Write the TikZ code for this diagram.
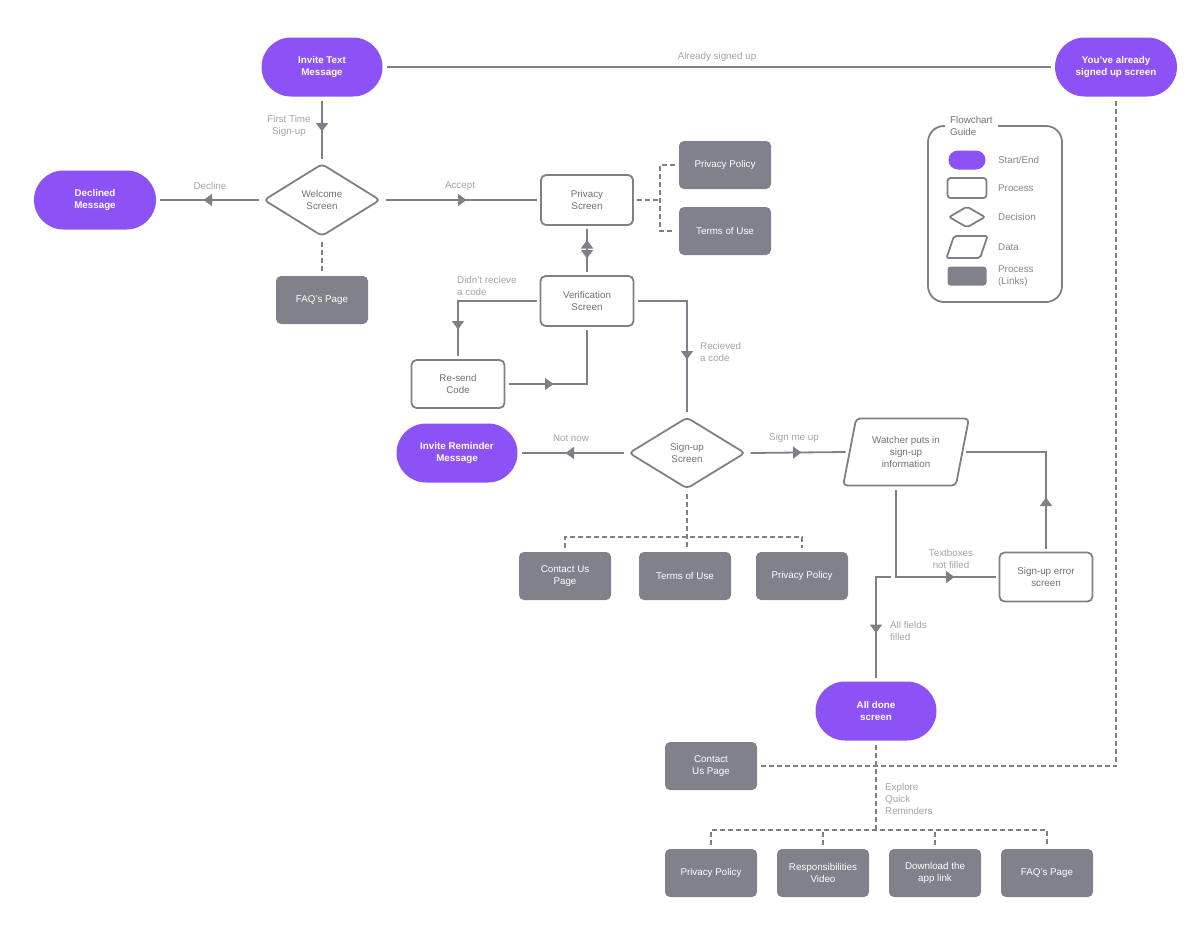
\documentclass[tikz,border=0pt]{standalone}
\usepackage{fontspec}
\setmainfont{Liberation Sans}
\usetikzlibrary{shapes.geometric,shapes.misc,arrows.meta,decorations.markings}

\definecolor{startend}{HTML}{8C52F6}
\definecolor{linkfill}{HTML}{80818A}
\definecolor{edgecol}{HTML}{7F8087}
\definecolor{labelcol}{HTML}{A3A3A7}
\definecolor{boxtext}{HTML}{707076}
\definecolor{guidetext}{HTML}{86868B}

\tikzset{
  x=1pt, y=-1pt,
  txt/.style={font=\fontsize{9.8}{11.8}\selectfont},
  base/.style={txt, align=center, inner sep=0pt, outer sep=4pt, line width=1.8pt},
  pill/.style={base, rounded rectangle, fill=startend, text=white,
    font=\fontsize{9.8}{11.8}\selectfont\bfseries, minimum width=121pt, minimum height=59pt},
  proc/.style={base, rectangle, draw=edgecol, rounded corners=5pt, fill=white,
    text=boxtext, minimum width=93pt, minimum height=49pt},
  linkbox/.style={base, rectangle, fill=linkfill, rounded corners=5pt, text=white,
    minimum width=92pt, minimum height=48pt},
  decision/.style={base, diamond, draw=edgecol, rounded corners=4pt, text=boxtext,
    minimum width=119pt, minimum height=75pt},
  datain/.style={base, trapezium, trapezium left angle=74, trapezium right angle=106,
    trapezium stretches=true, draw=edgecol, rounded corners=4pt, text=boxtext,
    minimum width=126pt, minimum height=67pt},
  lbl/.style={txt, text=labelcol, inner sep=0pt, align=center},
  guidelbl/.style={txt, text=guidetext, inner sep=0pt, align=left, anchor=west},
  flow/.style={draw=edgecol, line width=1.8pt},
  linkline/.style={draw=edgecol, line width=1.8pt, dash pattern=on 5pt off 3pt},
  tipat/.style={postaction={decorate, decoration={markings,
    mark=at position #1 with {\arrow{Triangle[width=12pt,length=8.5pt]}}}}},
  backtipat/.style={postaction={decorate, decoration={markings,
    mark=at position #1 with {\arrowreversed{Triangle[width=12pt,length=8.5pt]}}}}},
}

\begin{document}
\begin{tikzpicture}
\useasboundingbox (0,0) rectangle (1200,930);

% ---------- start / end ----------
\node[pill] (inv)  at (322,67)  {Invite Text\\Message};
\node[pill, minimum width=122pt] (you) at (1116,67) {You’ve already\\signed up screen};
\node[pill, minimum width=122pt] (dec) at (95,200) {Declined\\Message};
\node[pill] (irm)  at (457,453) {Invite Reminder\\Message};
\node[pill] (done) at (876,711) {All done\\screen};

% ---------- decisions ----------
\node[decision] (wel) at (322,200) {Welcome\\Screen};
\node[decision, minimum height=74pt] (sgn) at (687,453) {Sign-up\\Screen};

% ---------- processes ----------
\node[proc, minimum width=92pt, minimum height=50pt] (privs) at (587,200) {Privacy\\Screen};
\node[proc, minimum height=50pt] (ver) at (587,301) {Verification\\Screen};
\node[proc, minimum height=48pt] (res) at (458,384) {Re-send\\Code};
\node[proc] (err) at (1046,577) {Sign-up error\\screen};
\node[datain] (wat) at (906,452) {Watcher puts in\\sign-up\\information};

% ---------- linked pages ----------
\node[linkbox] (faq1) at (322,300) {FAQ’s Page};
\node[linkbox] (pp1)  at (725,165) {Privacy Policy};
\node[linkbox] (tou1) at (725,231) {Terms of Use};
\node[linkbox] (cu1)  at (565,576) {Contact Us\\Page};
\node[linkbox] (tou2) at (685,576) {Terms of Use};
\node[linkbox] (pp2)  at (802,576) {Privacy Policy};
\node[linkbox] (cu2)  at (711,766) {Contact\\Us Page};
\node[linkbox] (pp3)  at (711,873) {Privacy Policy};
\node[linkbox] (rv)   at (823,873) {Responsibilities\\Video};
\node[linkbox] (dl)   at (935,873) {Download the\\app link};
\node[linkbox] (faq2) at (1047,873) {FAQ’s Page};

% ---------- main flow ----------
\draw[flow] (inv.east) -- (you.west);
\node[lbl] (lalready) at (717,57) {Already signed up};

\draw[flow, tipat=31pt] (inv.south) -- (wel.north);
\node[lbl] (lfirst) at (289,126) {First Time\\Sign-up};

\draw[flow, tipat=55pt] (wel.west) -- (dec.east);
\node[lbl] (ldecline) at (210,186) {Decline};

\draw[linkline] (wel.south) -- (faq1.north);

\draw[flow, tipat=81pt] (wel.east) -- (privs.west);
\node[lbl] (laccept) at (460,186) {Accept};

\coordinate (privjoin) at (660,200);
\draw[linkline] (privs.east) -- (privjoin);
\draw[linkline] (pp1.west) -| (privjoin) |- (tou1.west);

\draw[flow, backtipat=11pt, tipat=29.5pt] (privs.south) -- (ver.north);

\draw[flow, tipat=107pt] (ver.west) -| (res.north);
\node[lbl, anchor=west, align=left] (lnocode) at (457,286) {Didn’t recieve\\a code};

\draw[flow, tipat=45pt] (res.east) -| (ver.south);

\draw[flow, tipat=108pt] (ver.east) -| (sgn.north);
\node[lbl, anchor=west, align=left] (lcode) at (700,352) {Recieved\\a code};

\draw[flow, tipat=58pt] (sgn.west) -- (irm.east);
\node[lbl] (lnotnow) at (571,438) {Not now};

\draw[flow, tipat=51pt] (sgn.east) -- (wat.west);
\node[lbl] (lsignme) at (794,438) {Sign me up};

% sign-up screen links
\coordinate (sbus) at (687,537);
\draw[linkline] (sgn.south) -- (sgn.south |- tou2.north);
\draw[linkline] (cu1.north) |- (sbus) -| (pp2.north);

% error loop
\draw[flow, tipat=51pt] (err.north) |- (wat.east);
\draw[flow, tipat=146pt] ([xshift=-10pt]wat.south) |- (err.west);
\node[lbl] (ltextbox) at (951,559) {Textboxes\\not filled};

\coordinate (fork) at (891,577);
\draw[flow, tipat=71pt] (fork) -| (done.north);
\node[lbl, anchor=west, align=left] (lfilled) at (890,631) {All fields\\filled};

% already signed up -> contact
\draw[linkline] (you.south) |- (cu2.east);

% quick reminders
\coordinate (bbus) at (876,830);
\draw[linkline] (done.south) -- (bbus);
\draw[linkline] (pp3.north) |- (bbus) -| (faq2.north);
\draw[linkline] (rv.north) -- (rv.north |- bbus);
\draw[linkline] (dl.north) -- (dl.north |- bbus);
\node[lbl, anchor=west, align=left] (lexplore) at (885,799) {Explore\\Quick\\Reminders};

% ---------- guide ----------
\node[draw=edgecol, line width=1.8pt, rounded corners=16pt, minimum width=134pt,
      minimum height=176pt, inner sep=0pt] (guide) at (995,214) {};
\node[txt, text=guidetext!85!black, fill=white, align=left, anchor=west, inner xsep=5pt,
      inner ysep=1pt] (guidetitle) at (945,126) {Flowchart\\Guide};

\node[pill, minimum width=39pt, minimum height=19pt, inner sep=1pt] (g1) at (967,160) {};
\node[proc, minimum width=39pt, minimum height=20pt, rounded corners=3pt, inner sep=1pt] (g2) at (967,188) {};
\node[decision, minimum width=39pt, minimum height=24pt, rounded corners=2pt, inner sep=1pt] (g3) at (967,217) {};
\node[datain, minimum width=41pt, minimum height=22pt, rounded corners=2pt, inner sep=1pt] (g4) at (967,247) {};
\node[linkbox, minimum width=39pt, minimum height=19pt, rounded corners=3pt, inner sep=1pt] (g5) at (967,276) {};

\node[guidelbl] (t1) at (998,160) {Start/End};
\node[guidelbl] (t2) at (998,188) {Process};
\node[guidelbl] (t3) at (998,217) {Decision};
\node[guidelbl] (t4) at (998,247) {Data};
\node[guidelbl] (t5) at (998,276) {Process\\(Links)};
\end{tikzpicture}
\end{document}
